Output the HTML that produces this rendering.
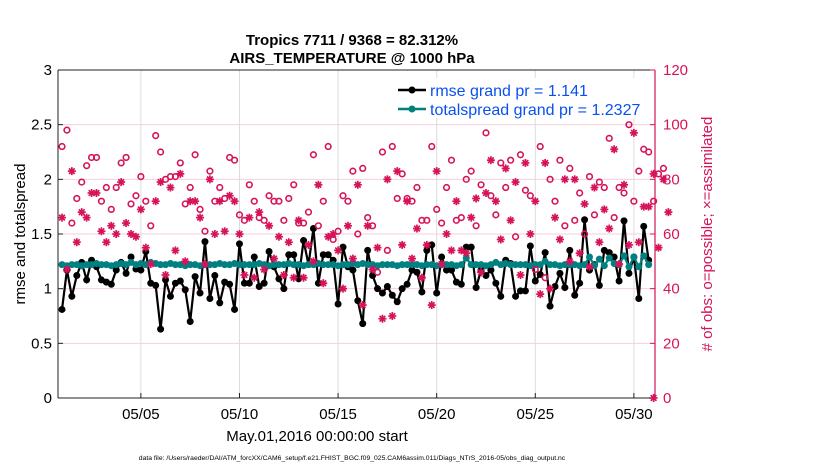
<!DOCTYPE html>
<html><head><meta charset="utf-8"><style>
body{margin:0;background:#fff;}
svg{display:block;font-family:"Liberation Sans",sans-serif;}
</style></head><body>
<svg id="c" width="830" height="470">
<g id="grid"></g>
<g id="marks"></g>
<g id="axes"></g>
<text x="352" y="45" text-anchor="middle" font-size="15" font-weight="bold">Tropics 7711 / 9368 = 82.312%</text>
<text x="352" y="63" text-anchor="middle" font-size="15" font-weight="bold">AIRS_TEMPERATURE @ 1000 hPa</text>
<text x="317" y="441" text-anchor="middle" font-size="15">May.01,2016 00:00:00 start</text>
<text transform="translate(25,234) rotate(-90)" text-anchor="middle" font-size="15">rmse and totalspread</text>
<text transform="translate(712,234) rotate(-90)" text-anchor="middle" font-size="15" fill="#d6135a"># of obs: o=possible; ×=assimilated</text>
<text x="352" y="460" text-anchor="middle" font-size="6.8">data file: /Users/raeder/DAI/ATM_forcXX/CAM6_setup/f.e21.FHIST_BGC.f09_025.CAM6assim.011/Diags_NTrS_2016-05/obs_diag_output.nc</text>
<g>
<rect x="397" y="78" width="248" height="40" fill="#fff"/>
<line x1="398" y1="90" x2="426" y2="90" stroke="#000" stroke-width="2.5"/>
<circle cx="412" cy="90" r="3.5" fill="#000"/>
<text x="430" y="96" font-size="16" fill="#0a50f0">rmse grand pr = 1.141</text>
<line x1="398" y1="109" x2="426" y2="109" stroke="#008080" stroke-width="2.5"/>
<circle cx="412" cy="109" r="3.5" fill="#008080"/>
<text x="430" y="115" font-size="16" fill="#0a50f0">totalspread grand pr = 1.2327</text>
</g>
</svg>
<script>
const rmse=[0.81,1.17,0.93,1.12,1.24,1.08,1.26,1.2,1.08,1.06,1.04,1.17,1.24,1.14,1.29,1.18,1.17,1.34,1.05,1.03,0.63,1.08,0.93,1.05,1.07,0.99,0.7,1.11,0.96,1.43,0.91,1.12,0.87,1.06,1.04,0.81,1.41,1.05,
1.05,1.29,1.02,1.05,1.34,1.2,1.09,1.0,1.31,1.31,1.09,1.44,1.22,1.55,1.05,1.31,1.31,1.26,0.86,1.38,1.2,1.17,0.89,0.68,1.35,1.12,1.0,0.96,1.02,0.94,0.88,1.0,1.04,1.17,1.15,0.97,1.35,1.4,0.96,1.29,
1.17,1.17,1.06,1.04,1.38,1.38,1.01,1.17,1.12,1.17,1.05,0.93,1.26,1.23,0.93,0.98,0.98,1.39,1.07,1.13,1.33,0.84,1.02,1.14,1.01,1.35,0.94,1.05,1.63,1.17,1.22,1.03,1.35,1.33,1.29,1.07,1.62,1.14,1.29,0.91,1.57,1.26];
const spread=[1.22,1.21,1.22,1.22,1.21,1.22,1.22,1.23,1.22,1.22,1.21,1.22,1.23,1.22,1.24,1.22,1.23,1.22,1.24,1.23,1.22,1.22,1.23,1.22,1.22,1.21,1.22,1.22,1.21,1.22,1.22,1.22,1.23,1.22,1.22,1.23,1.22,1.22,
1.22,1.22,1.23,1.22,1.21,1.22,1.22,1.22,1.23,1.22,1.22,1.21,1.22,1.22,1.23,1.22,1.22,1.22,1.21,1.22,1.22,1.23,1.22,1.23,1.22,1.22,1.21,1.22,1.22,1.22,1.21,1.22,1.22,1.22,1.22,1.21,1.22,1.22,1.21,1.22,
1.22,1.22,1.21,1.22,1.28,1.22,1.22,1.22,1.21,1.22,1.24,1.22,1.23,1.22,1.22,1.22,1.22,1.21,1.22,1.22,1.25,1.22,1.22,1.21,1.22,1.22,1.22,1.21,1.22,1.29,1.21,1.27,1.21,1.28,1.23,1.22,1.3,1.2,1.29,1.2,1.3,1.22];
const possible=[92,98,64,73,79,85,88,88,72,77,69,77,86,88,71,74,81,72,63,96,90,80,81,81,86,71,77,89,69,61,83,72,77,73,88,87,67,65,78,72,
66,65,74,72,72,65,73,78,64,64,68,89,63,72,92,58,61,74,72,83,60,84,66,63,46,90,54,92,73,82,73,72,77,65,65,92,69,64,77,87,65,
66,80,83,63,78,97,74,67,86,77,87,59,89,76,74,47,92,44,80,72,87,63,84,65,75,60,81,67,79,77,95,66,77,75,100,72,83,91,90,72,82,84];
const assimilated=[66,47,83,57,68,66,75,75,61,57,63,60,79,64,60,59,69,55,49,72,79,45,77,54,82,50,72,72,66,49,80,60,72,61,74,72,60,45,66,44,68,
47,63,51,59,45,57,44,65,44,56,50,78,42,59,60,54,40,63,51,78,34,63,47,55,29,80,30,83,56,72,51,62,44,56,34,83,49,60,54,72,54,
53,66,73,46,75,87,72,58,84,65,79,45,86,60,72,38,86,40,66,58,80,50,80,53,71,48,77,57,69,62,91,49,78,56,97,57,70,70,82,55,80,68];
const xTickDays=[4,9,14,19,24,29];
const xTickLabels=['05/05','05/10','05/15','05/20','05/25','05/30'];
const yTicksLeft=[0,0.5,1,1.5,2,2.5,3];
const yTicksRight=[0,20,40,60,80,100,120];

const L=58,R=655,T=70,B=398;
const x=d=>62+d*19.72;
const yl=v=>B-(v/3)*(B-T);
const yr=v=>B-(v/120)*(B-T);
const NS='http://www.w3.org/2000/svg';
function mk(t,a,p){const e=document.createElementNS(NS,t);for(const k in a)e.setAttribute(k,a[k]);p.appendChild(e);return e;}
const grid=document.getElementById('grid'),marks=document.getElementById('marks'),axes=document.getElementById('axes');
yTicksRight.forEach(v=>{if(v>0&&v<120){const g=mk('line',{x1:L,x2:R,y1:yr(v),y2:yr(v),stroke:'#f6cfdc','stroke-width':1},grid);

}});
xTickDays.forEach(d=>{const g=mk('line',{x1:x(d),x2:x(d),y1:T,y2:B,stroke:'#dcdcdc','stroke-width':1},grid);

});
const t=i=>i/4;
let pts=rmse.map((v,i)=>x(t(i))+','+yl(v)).join(' ');
const rl=mk('polyline',{points:pts,fill:'none',stroke:'#000','stroke-width':2.2},marks);


rmse.forEach((v,i)=>{const c=mk('circle',{cx:x(t(i)),cy:yl(v),r:3.5,fill:'#000'},marks);

});
pts=spread.map((v,i)=>x(t(i))+','+yl(v)).join(' ');
const sl=mk('polyline',{points:pts,fill:'none',stroke:'#008080','stroke-width':2.2},marks);


spread.forEach((v,i)=>{const c=mk('circle',{cx:x(t(i)),cy:yl(v),r:3.5,fill:'#008080'},marks);

});
possible.forEach((v,i)=>{const c=mk('circle',{cx:x(t(i)),cy:yr(v),r:2.8,fill:'none',stroke:'#d6135a','stroke-width':1.6},marks);

});
assimilated.forEach((v,i)=>{const cx=x(t(i)),cy=yr(v);const g=mk('g',{stroke:'#d6135a','stroke-width':1.7},marks);


[0,45,90,135].forEach(a=>{const r=a*Math.PI/180,dx=4*Math.cos(r),dy=4*Math.sin(r);mk('line',{x1:cx-dx,y1:cy-dy,x2:cx+dx,y2:cy+dy},g);});});
{const cx=x(30),cy=yr(0);const g=mk('g',{stroke:'#d6135a','stroke-width':1.7},marks);


[0,45,90,135].forEach(a=>{const r=a*Math.PI/180,dx=4*Math.cos(r),dy=4*Math.sin(r);mk('line',{x1:cx-dx,y1:cy-dy,x2:cx+dx,y2:cy+dy},g);});}
let a=mk('line',{x1:L,x2:L,y1:T,y2:B,stroke:'#222','stroke-width':1},axes);

a=mk('line',{x1:L,x2:R,y1:B,y2:B,stroke:'#222','stroke-width':1},axes);

a=mk('line',{x1:L,x2:R,y1:T,y2:T,stroke:'#222','stroke-width':1},axes);

a=mk('line',{x1:R,x2:R,y1:T,y2:B,stroke:'#d6135a','stroke-width':1.2},axes);

yTicksLeft.forEach(v=>{mk('line',{x1:L,x2:L+5,y1:yl(v),y2:yl(v),stroke:'#222'},axes);
const tx=mk('text',{x:L-6,y:yl(v)+5,'text-anchor':'end','font-size':15},axes);tx.textContent=String(v);

});
yTicksRight.forEach(v=>{mk('line',{x1:R-5,x2:R,y1:yr(v),y2:yr(v),stroke:'#d6135a'},axes);
const tx=mk('text',{x:R+8,y:yr(v)+5,'font-size':15,fill:'#d6135a'},axes);tx.textContent=String(v);

});
xTickDays.forEach((d,i)=>{mk('line',{x1:x(d),x2:x(d),y1:B,y2:B-5,stroke:'#222'},axes);
const tx=mk('text',{x:x(d),y:B+21,'text-anchor':'middle','font-size':15},axes);tx.textContent=xTickLabels[i];

});
</script>
</body></html>
